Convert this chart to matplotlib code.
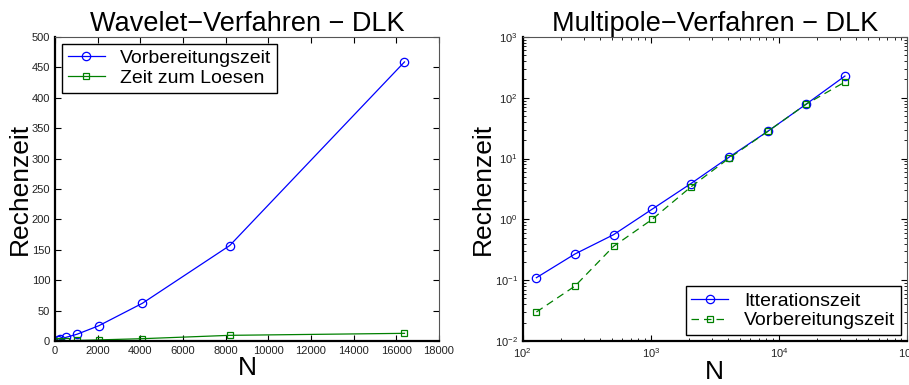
import matplotlib.pyplot as plt

plt.rcParams['font.family'] = ['Liberation Sans', 'DejaVu Sans']

# Wavelet-Verfahren
n_wav = [128, 256, 512, 1024, 2048, 4096, 8192, 16384]
vorb_wav = [1.0, 2.5, 6.0, 11.0, 25.0, 62.0, 157.0, 459.0]
loesen_wav = [0.1, 0.2, 0.4, 0.9, 1.8, 3.8, 9.3, 12.6]

# Multipole-Verfahren
n_mp = [128, 256, 512, 1024, 2048, 4096, 8192, 16384, 32768]
iter_mp = [0.11, 0.27, 0.56, 1.47, 3.86, 10.6, 28.1, 79.0, 228.0]
vorb_mp = [0.030, 0.080, 0.36, 1.0, 3.4, 10.2, 28.0, 79.0, 182.0]

blue = (0, 0, 1)
green = (0, 0.5, 0)

fig = plt.figure(figsize=(9.09, 3.85), dpi=100)
ax1 = fig.add_axes([0.0605, 0.1143, 0.4224, 0.7896])
ax2 = fig.add_axes([0.575, 0.1143, 0.4228, 0.7896])


def style_axes(ax):
    ax.tick_params(which='both', direction='in', top=True, right=True,
                   labelsize=8, labelcolor='#222222')
    ax.tick_params(which='major', length=4)
    ax.tick_params(which='minor', length=2)
    for side in ('left', 'bottom'):
        ax.spines[side].set_linewidth(1.6)
    for side in ('top', 'right'):
        ax.spines[side].set_linewidth(0.8)
        ax.spines[side].set_color('#555555')


ax1.plot(n_wav, vorb_wav, '-o', color=blue, lw=0.9, ms=6, mfc='none',
         mew=0.9, label='Vorbereitungszeit')
ax1.plot(n_wav, loesen_wav, '-s', color=green, lw=0.9, ms=5, mfc='none',
         mew=0.9, label='Zeit zum Loesen')
ax1.set_xlim(0, 18000)
ax1.set_ylim(0, 500)
ax1.set_xticks(range(0, 18001, 2000))
ax1.set_yticks(range(0, 501, 50))
ax1.set_title('Wavelet\u2212Verfahren \u2212 DLK', fontsize=19.5, pad=4)
ax1.set_xlabel('N', fontsize=19, labelpad=0)
ax1.set_ylabel('Rechenzeit', fontsize=19, labelpad=0)
style_axes(ax1)
leg1 = ax1.legend(loc='upper left', fontsize=14, handlelength=1.9,
                  borderaxespad=0.35, borderpad=0.3, labelspacing=0.1,
                  fancybox=False, framealpha=1, edgecolor='black')
leg1.get_frame().set_linewidth(1.0)

ax2.loglog(n_mp, iter_mp, '-o', color=blue, lw=0.9, ms=6, mfc='none',
           mew=0.9, label='Itterationszeit')
ax2.loglog(n_mp, vorb_mp, 's', color=green, ls=(0, (6, 4)), lw=0.9, ms=5,
           mfc='none', mew=0.9, label='Vorbereitungszeit')
ax2.set_xlim(1e2, 1e5)
ax2.set_ylim(1e-2, 1e3)
ax2.set_title('Multipole\u2212Verfahren \u2212 DLK', fontsize=19.5, pad=4)
ax2.set_xlabel('N', fontsize=19, labelpad=0)
ax2.set_ylabel('Rechenzeit', fontsize=19, labelpad=0)
style_axes(ax2)
leg2 = ax2.legend(loc='lower right', fontsize=14, handlelength=1.9,
                  borderaxespad=0.3, borderpad=0.3, labelspacing=0.1,
                  fancybox=False, framealpha=1, edgecolor='black')
leg2.get_frame().set_linewidth(1.0)

fig.savefig('out.png', dpi=100)
